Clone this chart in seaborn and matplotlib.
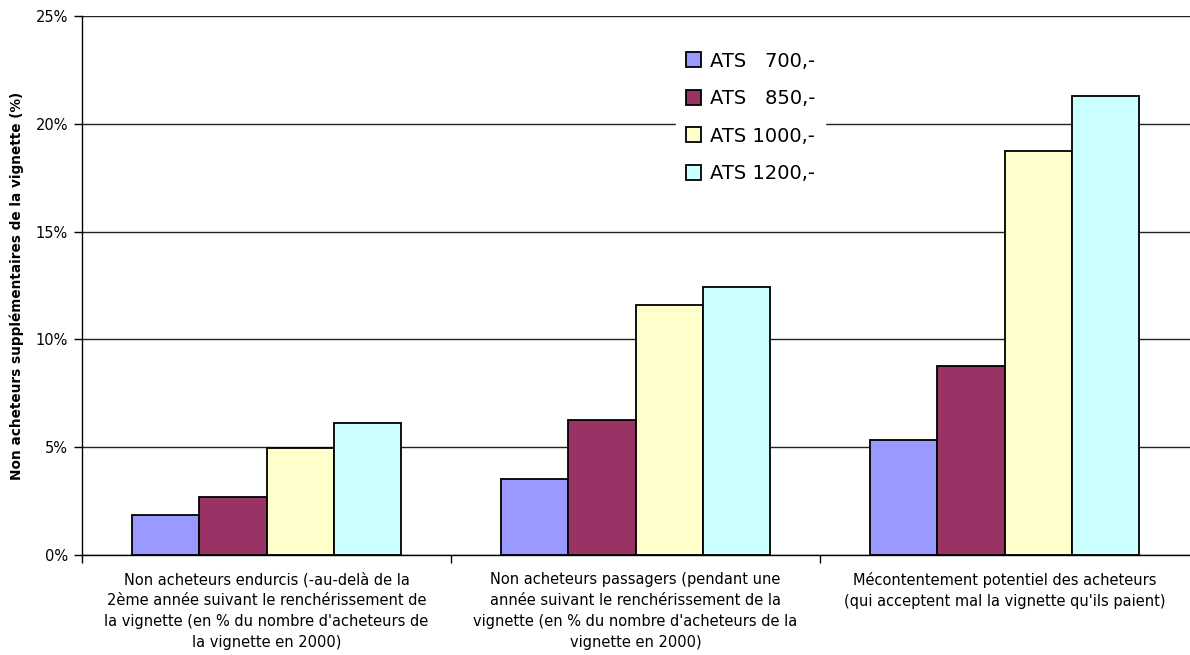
import matplotlib
matplotlib.use("Agg")
import matplotlib.pyplot as plt
import seaborn as sns
import pandas as pd
from matplotlib.ticker import FuncFormatter, MultipleLocator, FixedLocator

# Categories (x axis) and price levels (legend)
categories = [
    "Non acheteurs endurcis (-au-delà de la\n2ème année suivant le renchérissement de\nla vignette (en % du nombre d'acheteurs de\nla vignette en 2000)",
    "Non acheteurs passagers (pendant une\nannée suivant le renchérissement de la\nvignette (en % du nombre d'acheteurs de la\nvignette en 2000)",
    "Mécontentement potentiel des acheteurs\n(qui acceptent mal la vignette qu'ils paient)",
]
series = ["ATS   700,-", "ATS   850,-", "ATS 1000,-", "ATS 1200,-"]

# Values in percent, one list per price level
ats_700 = [1.86, 3.51, 5.35]
ats_850 = [2.70, 6.28, 8.77]
ats_1000 = [4.98, 11.58, 18.72]
ats_1200 = [6.14, 12.42, 21.29]

colors = ["#9999FF", "#993366", "#FFFFCC", "#CCFFFF"]

rows = []
for name, vals in zip(series, [ats_700, ats_850, ats_1000, ats_1200]):
    for cat, v in zip(categories, vals):
        rows.append({"categorie": cat, "prix": name, "valeur": v})
df = pd.DataFrame(rows)

sns.set_theme(style="white")
plt.rcParams["font.family"] = ["DejaVu Sans"]
plt.rcParams["text.color"] = "black"
plt.rcParams["axes.labelcolor"] = "black"
plt.rcParams["xtick.color"] = "black"
plt.rcParams["ytick.color"] = "black"

fig = plt.figure(figsize=(11.9, 6.55), dpi=100)
ax = fig.add_axes([0.0689, 0.1527, 0.935, 0.8229])

sns.barplot(data=df, x="categorie", y="valeur", hue="prix", order=categories,
            hue_order=series, palette=colors, width=0.728, gap=0,
            edgecolor="black", linewidth=1.3, saturation=1, ax=ax)

ax.set_ylim(0, 25)
ax.set_xlim(-0.5, 2.515)
ax.yaxis.set_major_locator(MultipleLocator(5))
ax.yaxis.set_major_formatter(FuncFormatter(lambda v, p: f"{int(v)}%"))
ax.grid(axis="y", color="#222222", linewidth=1.0)
ax.set_axisbelow(True)

for s in ["top", "right"]:
    ax.spines[s].set_visible(False)
ax.spines["left"].set_color("black")
ax.spines["bottom"].set_color("black")
ax.spines["left"].set_linewidth(1.0)
ax.spines["bottom"].set_linewidth(1.0)

ax.tick_params(axis="y", which="major", direction="out", length=6, width=1,
               color="black", labelcolor="black", labelsize=10.5, pad=4, left=True)
ax.tick_params(axis="x", which="major", length=0, labelsize=10.5, pad=12,
               labelcolor="black")
ax.xaxis.set_minor_locator(FixedLocator([-0.5, 0.5, 1.5]))
ax.tick_params(axis="x", which="minor", direction="out", length=6, width=1,
               color="black", bottom=True)
for lbl in ax.get_xticklabels():
    lbl.set_multialignment("center")
    lbl.set_linespacing(1.5)

ax.set_xlabel("")
ax.set_ylabel("Non acheteurs supplémentaires de la vignette (%)",
              fontsize=9.8, fontweight="bold", labelpad=8, color="black")

leg = ax.legend(loc="upper left", bbox_to_anchor=(0.525, 0.97), fontsize=14,
                frameon=True, framealpha=1, edgecolor="white", fancybox=False,
                handlelength=0.8, handleheight=0.8, handletextpad=0.45,
                labelspacing=0.95, borderpad=0.5)
for h in leg.legend_handles:
    h.set_edgecolor("black")
    h.set_linewidth(1.3)
for t in leg.get_texts():
    t.set_color("black")

fig.savefig("out.png", dpi=100, facecolor="white")
